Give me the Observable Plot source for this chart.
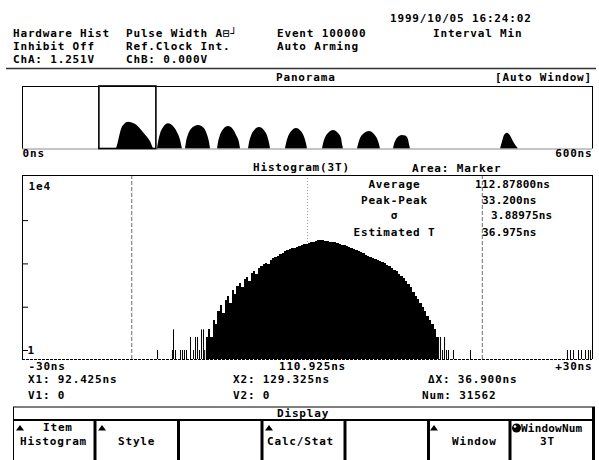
<!DOCTYPE html>
<html><head><meta charset="utf-8">
<script src="https://cdn.jsdelivr.net/npm/d3@7"></script>
<script src="https://cdn.jsdelivr.net/npm/@observablehq/plot@0.6"></script>
<style>
body{margin:0;background:#fff;}
#screen{position:relative;width:599px;height:460px;overflow:hidden;background:#fff;}
#screen svg{position:absolute;left:0;}
</style></head><body><div id="screen"></div>
<script>
// ---------- Panorama (0..600 ns) ----------
const panoramaRange = [0, 600];
const panoramaTickLabels = ["0ns", "600ns"];
const panoramaMax = 6000;
const windowRange = [80.925, 140.925];
const humpNames = ["3T","4T","5T","6T","7T","8T","9T","10T","11T","14T"];
const humpNs = [
  [98.9,100.5,102.5,104.5,107.5,111.6,115.5,119.5,123.5,127,131,134.7,137.9],
  [142.1,143.2,145.3,148.4,153.7,158.9,163.2,166.3,168.4],
  [171.6,172.6,174.7,177.9,185.3,191.6,194.7,196.8,197.9],
  [205.3,206.3,208.4,211.6,216.8,222.1,225.3,228.4,229.5],
  [237.9,238.9,241.1,244.2,249.5,254.7,257.9,260,261.1],
  [276.8,277.9,280,283.2,288.4,293.7,296.8,298.9,300],
  [315.8,316.8,318.9,322.1,327.4,332.6,335.8,336.8,337.9],
  [352.6,353.7,355.8,358.9,365.3,370.5,373.7,375.8,376.8],
  [390.5,391.6,393.7,396.8,400,403.2,406.3,407.4,408.4],
  [503.2,505.3,507.4,510.5,513.7,516.8,520,522.1]
];
const humpCounts = [
  [0,500,1300,1950,2350,2560,2500,2330,2000,1620,1180,700,0],
  [0,650,1450,2050,2420,2150,1550,850,0],
  [0,650,1350,1900,2260,1950,1350,650,0],
  [0,600,1300,1850,2160,1850,1300,600,0],
  [0,550,1250,1750,2060,1750,1250,550,0],
  [0,500,1150,1650,1970,1650,1150,500,0],
  [0,450,1050,1500,1780,1500,1000,450,0],
  [0,400,1000,1400,1680,1400,950,400,0],
  [0,450,900,1200,1300,1250,900,400,0],
  [0,700,1300,1520,1250,700,250,0]
];

// ---------- Histogram(3T) ----------
const histRange = [80.925, 140.925];
const histTickValues = [80.925, 110.925, 140.925];
const histTickLabels = ["-30ns", "110.925ns", "+30ns"];
const countDomain = [0.62, 11000];
const countTicks = [1, 10, 100, 1000];
const countLabelValues = [10000, 1];
const countLabels = ["1e4", "1"];
const markerX = [92.425, 129.325];
const centerX = 110.925;
const firstBin = 100.25;
const binWidth = 0.25;
const binCounts = [2,3,2,5,4,8,11,7,14,18,12,24,20,30,36,28,44,48,40,60,
  66,58,80,88,95,104,98,122,130,140,150,165,172,190,200,215,222,232,245,255,
  262,275,285,300,305,318,330,338,345,340,336,330,318,312,305,292,280,270,262,255,
  240,228,218,205,192,182,170,160,150,140,132,128,120,112,105,100,92,85,80,72,
  66,56,50,45,40,33,28,22,18,15,12,10,8,6,5,4,3,2];
const spikeNs = [95.14,96.71,96.82,97.03,97.56,97.77,97.98,98.19,98.61,98.93,99.14,99.35,99.56,99.77,99.98,100.1,
  124.72,124.93,125.14,125.35,125.56,125.77,126.29,128.08,138.29,138.61,138.93,139.45,139.77,140.19,140.5,140.71];
const spikeCounts = [1,1,3,1,1,1,1,1,2,1,2,2,1,3,3,1,
  2,2,1,2,1,1,1,1,1,1,1,1,1,1,1,1];

const FONT = '"DejaVu Sans Mono", "Liberation Mono", monospace';
const plotStyle = {fontFamily: FONT, fontSize: "11px", fontWeight: "bold", letterSpacing: "0.83px", background: "transparent", color: "black"};
const screen = document.getElementById("screen");

// Panorama plot
const panoPts = humpNames.flatMap((h, i) => humpNs[i].map((x, j) => ({hump: h, x, count: humpCounts[i][j]})));
const pano = Plot.plot({
  width: 599, height: 92,
  marginTop: 16, marginBottom: 13.5, marginLeft: 22, marginRight: 7,
  x: {domain: panoramaRange, axis: null},
  y: {domain: [0, panoramaMax], axis: null},
  style: plotStyle,
  marks: [
    Plot.areaY(panoPts, {x: "x", y: "count", z: "hump", fill: "black", curve: "monotone-x"}),
    Plot.ruleY([0], {stroke: "#8a8a8a"}),
    Plot.ruleY([panoramaMax], {stroke: "black"}),
    Plot.ruleX(panoramaRange, {stroke: "black"}),
    Plot.rect([{x1: windowRange[0], x2: windowRange[1]}], {x1: "x1", x2: "x2", y1: 0, y2: panoramaMax, stroke: "black", strokeWidth: 1.6, fill: "none"}),
    Plot.text([{x: panoramaRange[0], t: panoramaTickLabels[0]}], {x: "x", text: "t", frameAnchor: "bottom", textAnchor: "start", dy: 8}),
    Plot.text([{x: panoramaRange[1], t: panoramaTickLabels[1]}], {x: "x", text: "t", frameAnchor: "bottom", textAnchor: "end", dy: 8})
  ]
});
pano.style.top = "70px";
screen.appendChild(pano);

// Histogram plot
const bins = binCounts.map((c, i) => ({x1: firstBin + i * binWidth, x2: firstBin + (i + 1) * binWidth, count: c}));
const spikes = spikeNs.map((x, i) => ({x, count: spikeCounts[i]}));
const ticks = histTickValues.map((v, i) => ({v, label: histTickLabels[i]}));
const ylabels = countLabelValues.map((v, i) => ({v, label: countLabels[i]}));
const hist = Plot.plot({
  width: 599, height: 220,
  marginTop: 15, marginBottom: 21, marginLeft: 22, marginRight: 7,
  x: {domain: histRange, axis: null},
  y: {type: "log", domain: countDomain, axis: null},
  style: plotStyle,
  marks: [
    Plot.ruleX([centerX], {stroke: "#9a9a9a", strokeDasharray: "1,2"}),
    Plot.rect(bins, {x1: "x1", x2: "x2", y1: countDomain[0], y2: "count", fill: "black", shapeRendering: "crispEdges"}),
    Plot.ruleX(spikes, {x: "x", y1: countDomain[0], y2: "count", stroke: "black"}),
    Plot.ruleX(markerX, {stroke: "#6e6e6e", strokeDasharray: "4,2"}),
    Plot.tickY(countTicks, {y: d => d, insetRight: 564, stroke: "black"}),
    Plot.ruleY([countDomain[1]], {stroke: "black"}),
    Plot.ruleX(histRange, {stroke: "black"}),
    Plot.ruleY([countDomain[0]], {stroke: "black", strokeDasharray: "3,1"}),
    Plot.text(ylabels.slice(0, 1), {y: "v", text: "label", frameAnchor: "left", textAnchor: "start", dx: 6, dy: 9}),
    Plot.text(ylabels.slice(1, 2), {y: "v", text: "label", frameAnchor: "left", textAnchor: "start", dx: 5, dy: 0}),
    Plot.text(ticks.slice(0, 1), {x: "v", text: "label", frameAnchor: "bottom", textAnchor: "start", dx: 6, dy: 10}),
    Plot.text(ticks.slice(1, 2), {x: "v", text: "label", frameAnchor: "bottom", textAnchor: "middle", dx: 5, dy: 10}),
    Plot.text(ticks.slice(2, 3), {x: "v", text: "label", frameAnchor: "bottom", textAnchor: "end", dx: 0, dy: 10})
  ]
});
hist.style.top = "160px";
screen.appendChild(hist);

// Overlay: instrument screen texts and frames
const ov = d3.select(screen).append("svg").attr("width", 599).attr("height", 460).style("top", "0px")
  .style("font-family", FONT).style("font-size", "11px").style("font-weight", "bold").style("letter-spacing", "0.83px");
function T(x, y, s, o = {}) {
  const t = ov.append("text").attr("x", x).attr("y", y).attr("text-anchor", o.a || "start").attr("fill", "black").text(s);
  if (o.ls != null) t.style("letter-spacing", o.ls + "px");
  return t;
}
function L(x1, y1, x2, y2, w = 1, c = "black") {
  ov.append("line").attr("x1", x1).attr("y1", y1).attr("x2", x2).attr("y2", y2).attr("stroke", c).attr("stroke-width", w);
}
// header
T(390, 22, "1999/10/05 16:24:02");
T(13, 37, "Hardware Hist"); T(126, 37, "Pulse Width A⊟┘"); T(277, 37, "Event 100000"); T(433, 37, "Interval Min");
T(13, 50, "Inhibit Off"); T(126, 50, "Ref.Clock Int."); T(277, 50, "Auto Arming");
T(13, 63, "ChA:  1.251V"); T(126, 63, "ChB:  0.000V");
L(6, 68.5, 596, 68.5, 1.6, "#333");
// panorama title
T(276, 81, "Panorama"); T(592, 81, "[Auto Window]", {a: "end"});
// histogram title
T(253, 171, "Histogram(3T)"); T(412, 172, "Area: Marker");
// statistics
T(394.5, 188, "Average", {a: "middle"}); T(475, 188, "112.87800ns", {ls: 0.2});
T(394.5, 204, "Peak-Peak", {a: "middle"}); T(482, 204, "33.200ns", {ls: 0.2});
T(394.5, 219, "σ", {a: "middle"}); T(491, 219, "3.88975ns", {ls: 0.2});
T(394.5, 236, "Estimated T", {a: "middle"}); T(482, 236, "36.975ns", {ls: 0.2});
// markers readout
T(28, 383, "X1: 92.425ns"); T(233, 383, "X2: 129.325ns"); T(428, 383, "ΔX: 36.900ns");
T(28, 399, "V1: 0"); T(233, 399, "V2: 0"); T(422, 399, "Num: 31562");
// display bar
L(13, 407, 595, 407, 1);
L(13, 420, 595, 420, 2);
L(13.5, 407, 13.5, 460, 1);
L(593.5, 407, 593.5, 460, 3);
T(277, 417, "Display");
// soft-key separators
[95, 178.5, 262, 345, 428.5, 510].forEach(x => L(x, 420, x, 460, 3));
// soft keys
[16, 98, 265, 430].forEach(x => ov.append("path").attr("d", `M${x},430.5L${x + 8},430.5L${x + 4},425Z`).attr("fill", "black"));
T(43, 431, "Item"); T(20, 445, "Histogram");
T(118, 445, "Style");
T(267, 445, "Calc/Stat");
T(452, 445, "Window");
ov.append("circle").attr("cx", 516.5).attr("cy", 428).attr("r", 4.5).attr("fill", "black");
ov.append("circle").attr("cx", 515).attr("cy", 426.5).attr("r", 1.3).attr("fill", "white");
T(521, 432, "WindowNum", {ls: 0.2}); T(540, 445, "3T");
</script></body></html>
